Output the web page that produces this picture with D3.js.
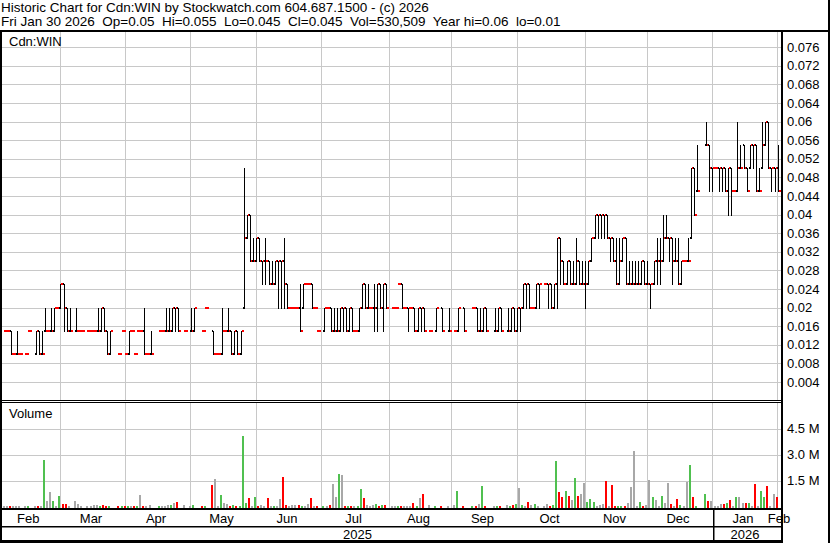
<!DOCTYPE html>
<html><head><meta charset="utf-8">
<script src="https://cdn.jsdelivr.net/npm/d3@7"></script>
<style>
body{margin:0;background:#fff;}
svg{display:block;}
text{font-family:"Liberation Sans",Arial,sans-serif;fill:#000;white-space:pre;}
</style>
</head><body>
<svg id="c" width="830" height="543"></svg>
<script>
// ---------- data ----------
const firstDay = "2025-02-03";
const holidays = ["2025-02-17","2025-04-18","2025-05-19","2025-07-01","2025-08-04",
  "2025-09-01","2025-10-13","2025-12-25","2025-12-26","2026-01-01"];
const headerLine1 = "Historic Chart for Cdn:WIN by Stockwatch.com 604.687.1500 - (c) 2026";
const headerLine2 = "Fri Jan 30 2026  Op=0.05  Hi=0.055  Lo=0.045  Cl=0.045  Vol=530,509  Year hi=0.06  lo=0.01";
const symbolLabel = "Cdn:WIN";
const volumeLabel = "Volume";
const monthNames = ["Jan","Feb","Mar","Apr","May","Jun","Jul","Aug","Sep","Oct","Nov","Dec"];
const priceTickLabels = ["0.004","0.008","0.012","0.016","0.02","0.024","0.028","0.032","0.036","0.04",
  "0.044","0.048","0.052","0.056","0.06","0.064","0.068","0.072","0.076"];
const volTickValues = [1500000, 3000000, 4500000];
const volTickLabels = ["1.5 M","3.0 M","4.5 M"];

const openP = [.015,.015,.015,.010,.010,.010,null,.010,.015,null,
 .010,.015,.010,.015,.015,.015,.015,.020,.020,.025,
 .020,.015,null,.015,.015,.015,null,.015,.015,.015,
 .015,.015,.020,.015,.010,null,null,.010,.015,.010,
 .010,.015,.010,.015,.015,.015,.010,.010,null,null,
 .015,.015,.015,.015,.015,.020,.020,null,.015,null,
 .015,.015,null,null,.015,.020,null,.015,.010,.010,
 .010,.015,.015,.015,.010,.015,.010,.020,.035,.040,
 .030,.030,.035,.030,.030,.030,.025,.025,.030,.030,
 .030,.025,.020,.020,.020,.020,.020,.025,.025,.025,
 .020,.015,null,.015,.020,.020,.015,.015,.015,.020,
 .020,.015,.020,.015,.015,.020,.025,.020,.020,.020,
 .020,.025,.020,.025,null,.020,.020,.025,.025,.020,
 .020,.020,.020,.015,.020,.020,null,.015,null,.015,
 null,.020,null,.015,null,.015,.015,null,.020,null,
 null,.020,.020,.015,.015,.020,null,null,.015,.015,
 .020,null,.015,.015,.020,.015,.020,.020,.025,.025,
 .020,.020,.025,null,.025,.025,.025,.020,.025,.035,
 .030,.025,.030,.025,.025,.030,.025,.025,.025,.030,
 .035,.040,.040,.040,.040,.035,.035,.030,.025,.030,
 .035,.025,.025,.025,.025,.025,.030,.025,.025,.025,
 .030,.030,.030,.035,.035,.035,.030,.030,.025,.030,
 .030,.035,.050,.045,null,null,.055,.055,.050,.050,
 .050,.050,.050,.045,.050,.045,.045,.050,.055,.050,
 .050,.055,.055,.045,.050,.055,.060,.050,.050,.050];
const highP = [.015,.015,.015,.010,.015,.010,null,.010,.015,null,
 .015,.015,.015,.020,.015,.020,.020,.020,.025,.025,
 .020,.020,null,.020,.015,.015,null,.015,.015,.015,
 .020,.020,.020,.015,.015,null,null,.010,.015,.010,
 .015,.015,.010,.015,.015,.020,.010,.015,null,null,
 .015,.015,.020,.020,.020,.020,.020,null,.015,null,
 .020,.020,null,null,.015,.020,null,.015,.010,.010,
 .020,.015,.020,.015,.015,.015,.015,.050,.040,.040,
 .035,.035,.035,.030,.035,.030,.030,.030,.030,.030,
 .035,.025,.020,.020,.020,.025,.025,.025,.025,.025,
 .020,.015,null,.020,.020,.020,.020,.020,.020,.020,
 .020,.020,.020,.015,.020,.025,.025,.025,.020,.025,
 .025,.025,.025,.025,null,.020,.020,.025,.025,.020,
 .020,.020,.020,.020,.020,.020,null,.015,null,.020,
 null,.020,null,.020,null,.015,.020,null,.020,null,
 null,.020,.020,.020,.020,.020,null,null,.020,.020,
 .020,null,.020,.020,.020,.020,.020,.025,.025,.025,
 .020,.025,.025,null,.025,.025,.025,.025,.035,.035,
 .030,.030,.030,.030,.035,.030,.030,.030,.030,.035,
 .040,.040,.040,.040,.040,.035,.035,.035,.035,.035,
 .035,.030,.030,.030,.030,.030,.030,.030,.025,.030,
 .035,.035,.040,.040,.035,.035,.035,.035,.030,.030,
 .035,.050,.050,.055,null,null,.060,.055,.050,.050,
 .050,.050,.050,.050,.050,.045,.060,.055,.055,.050,
 .055,.055,.055,.050,.060,.060,.060,.050,.050,.055];
const lowP = [.015,.015,.010,.010,.010,.010,null,.010,.015,null,
 .010,.010,.010,.015,.015,.015,.015,.020,.020,.015,
 .015,.015,null,.015,.015,.015,null,.015,.015,.015,
 .015,.015,.015,.010,.010,null,null,.010,.015,.010,
 .010,.015,.010,.015,.015,.010,.010,.010,null,null,
 .015,.015,.015,.015,.015,.015,.015,null,.015,null,
 .015,.015,null,null,.015,.020,null,.010,.010,.010,
 .010,.015,.015,.010,.010,.010,.010,.020,.035,.030,
 .030,.030,.030,.025,.025,.025,.025,.025,.020,.020,
 .020,.020,.020,.020,.020,.015,.020,.025,.025,.020,
 .020,.015,null,.015,.020,.015,.015,.015,.015,.015,
 .015,.015,.015,.015,.015,.020,.020,.020,.020,.015,
 .015,.020,.015,.020,null,.020,.020,.025,.020,.020,
 .015,.020,.015,.015,.015,.015,null,.015,null,.015,
 null,.015,null,.015,null,.015,.015,null,.015,null,
 null,.020,.015,.015,.015,.015,null,null,.015,.015,
 .015,null,.015,.015,.015,.015,.015,.020,.020,.020,
 .020,.020,.020,null,.025,.020,.020,.020,.020,.025,
 .025,.025,.025,.025,.025,.025,.025,.020,.025,.030,
 .035,.035,.035,.035,.035,.030,.030,.025,.025,.030,
 .025,.025,.025,.025,.025,.025,.025,.025,.020,.025,
 .025,.025,.030,.035,.030,.025,.030,.025,.025,.030,
 .030,.035,.040,.045,null,null,.055,.045,.045,.050,
 .045,.045,.045,.040,.040,.045,.045,.050,.050,.045,
 .050,.050,.045,.045,.050,.055,.050,.045,.045,.045];
const closeP = [.015,.015,.010,.010,.010,.010,null,.010,.015,null,
 .015,.010,.010,.015,.015,.015,.020,.020,.025,.020,
 .015,.015,null,.015,.015,.015,null,.015,.015,.015,
 .015,.020,.015,.010,.015,null,null,.010,.015,.010,
 .015,.015,.010,.015,.015,.010,.010,.010,null,null,
 .015,.015,.015,.015,.020,.020,.015,null,.015,null,
 .015,.020,null,null,.015,.020,null,.010,.010,.010,
 .015,.015,.015,.010,.015,.010,.015,.035,.040,.030,
 .030,.035,.030,.030,.030,.025,.025,.030,.030,.030,
 .025,.020,.020,.020,.020,.015,.025,.025,.025,.020,
 .020,.015,null,.020,.020,.015,.015,.015,.020,.020,
 .015,.020,.015,.015,.020,.025,.020,.020,.020,.020,
 .025,.020,.025,.020,null,.020,.020,.025,.020,.020,
 .020,.020,.015,.020,.020,.015,null,.015,null,.020,
 null,.015,null,.015,null,.015,.020,null,.015,null,
 null,.020,.015,.015,.020,.015,null,null,.015,.020,
 .015,null,.015,.020,.015,.020,.020,.025,.025,.020,
 .020,.025,.025,null,.025,.025,.020,.025,.035,.030,
 .025,.030,.025,.025,.030,.025,.025,.025,.030,.035,
 .040,.040,.040,.040,.035,.035,.030,.025,.030,.035,
 .025,.025,.025,.025,.025,.030,.025,.025,.025,.030,
 .030,.030,.035,.035,.035,.030,.030,.025,.030,.030,
 .030,.050,.040,.045,null,null,.055,.050,.050,.050,
 .050,.050,.045,.050,.045,.045,.050,.050,.050,.045,
 .055,.055,.045,.045,.055,.060,.050,.050,.050,.045];
const volume = [30000,20000,40000,20000,40000,20000,0,20000,20000,0,
 30000,30000,40000,2670000,300000,830000,300000,40000,600000,150000,
 150000,40000,0,300000,130000,30000,0,20000,20000,100000,
 100000,30000,60000,30000,30000,0,0,20000,20000,20000,
 30000,20000,20000,20000,650000,30000,20000,60000,0,0,
 30000,30000,30000,60000,60000,200000,250000,0,80000,0,
 30000,80000,0,0,20000,20000,0,1230000,1570000,40000,
 650000,200000,130000,20000,80000,20000,40000,4050000,200000,480000,
 20000,540000,20000,80000,40000,480000,40000,40000,20000,420000,
 1690000,80000,20000,60000,60000,60000,20000,20000,130000,480000,
 20000,20000,0,40000,20000,60000,1290000,560000,1860000,1800000,
 20000,20000,20000,40000,40000,1000000,480000,80000,40000,80000,
 130000,20000,60000,80000,0,20000,20000,20000,40000,20000,
 20000,20000,180000,20000,480000,700000,0,60000,0,20000,
 0,20000,0,40000,0,60000,880000,0,20000,0,
 0,20000,20000,130000,1170000,20000,0,0,20000,20000,
 20000,0,80000,20000,80000,170000,1090000,60000,20000,250000,
 60000,130000,20000,0,20000,130000,20000,60000,2610000,830000,
 540000,880000,600000,360000,1630000,600000,700000,1340000,250000,420000,
 250000,20000,80000,130000,1460000,20000,1230000,20000,20000,20000,
 40000,190000,1110000,3190000,20000,250000,20000,80000,1520000,540000,
 360000,40000,600000,190000,1340000,130000,20000,420000,80000,20000,
 1400000,2380000,540000,20000,0,0,700000,300000,300000,20000,
 20000,130000,130000,190000,360000,20000,540000,540000,190000,190000,
 190000,20000,1290000,20000,880000,540000,1170000,20000,700000,530509];

// ---------- trading calendar ----------
const N = closeP.length;
const dates = [];
{
  let d = new Date(firstDay + "T00:00:00Z");
  const hol = new Set(holidays);
  while (dates.length < N + 1) {
    const dow = d.getUTCDay();
    const iso = d.toISOString().slice(0,10);
    if (dow !== 0 && dow !== 6 && !hol.has(iso)) dates.push(new Date(d));
    d = new Date(d.getTime() + 86400000);
  }
}

// ---------- layout ----------
const svg = d3.select("#c");
const plotL = 2, plotR = 781;
const priceTop = 32, priceBot = 400, volTop = 403, volBot = 508;
const xS = d3.scaleLinear().domain([0, N - 1]).range([4.6, 777.7]);
const yP = d3.scaleLinear().domain([0, 0.08]).range([400.6, 28.6]);
const yV = d3.scaleLinear().domain([0, 4.5e6]).range([506.5, 428.5]);
const GRID = "#c8c8c8";

svg.append("rect").attr("width", 830).attr("height", 543).attr("fill", "#fff");

// month boundaries
const monthStarts = [];
for (let i = 1; i <= N; i++) {
  if (dates[i].getUTCMonth() !== dates[i-1].getUTCMonth()) monthStarts.push(i);
}
const gridX = i => Math.round(xS(i) - 3.5) + 0.5;

// vertical grid lines
const gv = svg.append("g").attr("stroke", GRID).attr("stroke-width", 1);
monthStarts.forEach(i => {
  gv.append("line").attr("x1", gridX(i)).attr("x2", gridX(i)).attr("y1", priceTop).attr("y2", priceBot);
  gv.append("line").attr("x1", gridX(i)).attr("x2", gridX(i)).attr("y1", volTop).attr("y2", volBot);
});
// horizontal price grid
const priceTickValues = priceTickLabels.map(Number);
priceTickValues.forEach(v => {
  const y = Math.round(yP(v)) + 0.5;
  gv.append("line").attr("x1", plotL).attr("x2", plotR).attr("y1", y).attr("y2", y);
});
volTickValues.forEach(v => {
  const y = Math.round(yV(v)) + 0.5;
  gv.append("line").attr("x1", plotL).attr("x2", plotR).attr("y1", y).attr("y2", y);
});

// ---------- volume bars ----------
let prevClose = null;
const volColor = [];
for (let i = 0; i < N; i++) {
  if (closeP[i] == null) { volColor.push(null); continue; }
  let c = "#a8a8a8";
  if (prevClose != null) {
    if (closeP[i] > prevClose + 1e-9) c = "#50c050";
    else if (closeP[i] < prevClose - 1e-9) c = "#ff0000";
  }
  volColor.push(c);
  prevClose = closeP[i];
}
svg.append("g").selectAll("rect").data(d3.range(N).filter(i => volume[i] > 0 && closeP[i] != null))
  .join("rect")
  .attr("x", i => Math.round(xS(i)) - 2)
  .attr("width", 2)
  .attr("y", i => Math.round(Math.min(yV(volume[i]), volBot - 2)))
  .attr("height", i => volBot - Math.round(Math.min(yV(volume[i]), volBot - 2)))
  .attr("fill", i => volColor[i]);

// ---------- price bars ----------
const pb = svg.append("g");
const idx = d3.range(N).filter(i => closeP[i] != null);
idx.forEach(i => {
  const x = Math.round(xS(i));
  const yh = yP(highP[i]), yl = yP(lowP[i]);
  const flat = highP[i] === lowP[i];
  if (!flat) {
    pb.append("rect").attr("x", x).attr("width", 1)
      .attr("y", Math.round(yh)).attr("height", Math.round(yl) - Math.round(yh) + 1).attr("fill", "#000");
    pb.append("rect").attr("x", x - 1).attr("width", 1)
      .attr("y", Math.round(yP(openP[i])) - 1).attr("height", 2).attr("fill", "#000");
    pb.append("rect").attr("x", x + 1).attr("width", 2)
      .attr("y", Math.round(yP(closeP[i])) - 1).attr("height", 2).attr("fill", "#ff0000");
  } else {
    pb.append("rect").attr("x", x - 1).attr("width", 4)
      .attr("y", Math.round(yP(closeP[i])) - 1).attr("height", 2).attr("fill", "#ff0000");
  }
});

// ---------- frame lines ----------
const fr = svg.append("g").attr("fill", "#000");
fr.append("rect").attr("x", 0).attr("y", 30).attr("width", 830).attr("height", 2);      // under header
fr.append("rect").attr("x", 0).attr("y", 30).attr("width", 2).attr("height", 513);      // left
fr.append("rect").attr("x", 828).attr("y", 0).attr("width", 2).attr("height", 543);     // right outer
fr.append("rect").attr("x", 781).attr("y", 30).attr("width", 2).attr("height", 513);    // plot right
fr.append("rect").attr("x", 0).attr("y", 400).attr("width", 783).attr("height", 1);     // pane divider
fr.append("rect").attr("x", 0).attr("y", 402).attr("width", 783).attr("height", 1);
fr.append("rect").attr("x", 0).attr("y", 508).attr("width", 783).attr("height", 2);     // volume bottom
fr.append("rect").attr("x", 0).attr("y", 526).attr("width", 783).attr("height", 1.5);   // month row bottom
fr.append("rect").attr("x", 0).attr("y", 540).attr("width", 783).attr("height", 3);     // bottom

// ---------- axes (labels) ----------
const pAxis = d3.axisRight(yP).tickValues(priceTickValues)
  .tickFormat((d, k) => priceTickLabels[k]).tickSize(0).tickPadding(0);
const pg = svg.append("g").attr("transform", "translate(787,0)").call(pAxis);
pg.select(".domain").remove();
pg.selectAll("text").attr("font-family", "Liberation Sans, Arial, sans-serif").attr("font-size", 13).attr("fill", "#000");

const vAxis = d3.axisRight(yV).tickValues(volTickValues)
  .tickFormat((d, k) => volTickLabels[k]).tickSize(0).tickPadding(0);
const vg = svg.append("g").attr("transform", "translate(787,0)").call(vAxis);
vg.select(".domain").remove();
vg.selectAll("text").attr("font-family", "Liberation Sans, Arial, sans-serif").attr("font-size", 13).attr("fill", "#000");

// month labels
const bounds = [plotL - 2].concat(monthStarts.map(gridX));
const monthIdx = [0].concat(monthStarts);
monthIdx.forEach((mi, k) => {
  const name = monthNames[dates[mi].getUTCMonth()];
  let cx;
  if (k < monthIdx.length - 1) cx = (bounds[k] + bounds[k+1]) / 2 - 2;
  else cx = bounds[k] + 1.5;
  svg.append("text").attr("x", cx).attr("y", 522.5).attr("text-anchor", "middle")
    .attr("font-size", 13).text(name);
});
// year row
const janIdx = monthStarts.find(i => dates[i].getUTCMonth() === 0);
const sepX = Math.round(gridX(janIdx)) ;
fr.append("rect").attr("x", sepX).attr("y", 509).attr("width", 1.5).attr("height", 32);
svg.append("text").attr("x", (plotL + sepX) / 2).attr("y", 538.5).attr("text-anchor", "middle")
  .attr("font-size", 13).text(String(dates[0].getUTCFullYear()));
svg.append("text").attr("x", (sepX + plotR) / 2 - 2).attr("y", 538.5).attr("text-anchor", "middle")
  .attr("font-size", 13).text(String(dates[N-1].getUTCFullYear()));

// header + pane labels
svg.append("text").attr("x", 1).attr("y", 11.5).attr("font-size", 13.5).text(headerLine1);
svg.append("text").attr("x", 1).attr("y", 25.5).attr("font-size", 13.5).text(headerLine2);
svg.append("text").attr("x", 9).attr("y", 46).attr("font-size", 13).text(symbolLabel);
svg.append("text").attr("x", 9).attr("y", 417.5).attr("font-size", 13).text(volumeLabel);
</script>
</body></html>
